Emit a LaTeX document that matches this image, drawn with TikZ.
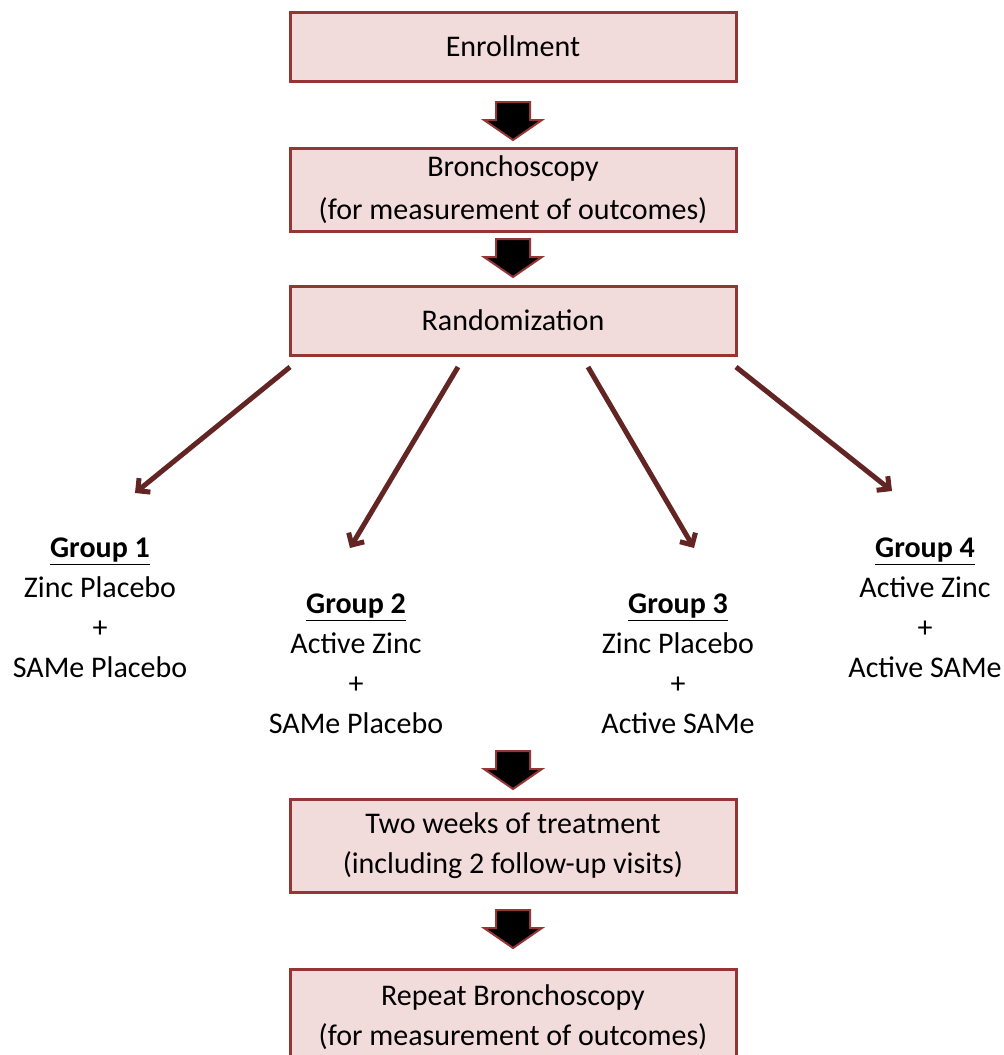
\documentclass[tikz,border=0pt]{standalone}
\usepackage{fontspec}
\setmainfont{Carlito}
\usepackage{xcolor}
\usetikzlibrary{positioning,arrows.meta}

\definecolor{boxline}{HTML}{943634}
\definecolor{boxfill}{HTML}{F2DCDB}
\definecolor{arrowred}{HTML}{632523}

\begin{document}
\begin{tikzpicture}[
    x=1pt, y=-1pt,
    font=\fontsize{30}{40}\selectfont,
    % --- flow step box ---
    stepbox/.style={draw=boxline, line width=3pt, fill=boxfill, align=center,
                    minimum width=446pt, inner sep=0pt},
    % --- black down block arrow, drawn from its top middle ---
    blockdown/.pic={
      \draw[draw=boxline, line width=2pt, fill=black, line join=miter]
        (-17,0) -- (17,0) -- (17,18) -- (29,18) -- (0,38) -- (-29,18)
        -- (-17,18) -- cycle;
    },
    % --- treatment group text ---
    grouptext/.style={align=center, inner sep=0pt},
    branch/.style={-{Straight Barb[length=9pt,width=18pt,line width=5pt]},
                   arrowred, line width=5pt},
  ]
  \useasboundingbox (0,0) rectangle (1004,1055);

  % ---- main flow -----------------------------------------------------------
  \node[stepbox, minimum height=69pt] (enroll) at (513,46.5) {Enrollment};
  \node[stepbox, minimum height=83pt] (bronch) at (513,189.5)
        {Bronchoscopy\\[3pt](for measurement of outcomes)};
  \node[stepbox, minimum height=69pt] (rand) at (513,320.5) {Randomization};
  \node[stepbox, minimum height=93pt] (treat) at (513,845.5)
        {Two weeks of treatment\\(including 2 follow-up visits)};
  \node[stepbox, minimum height=96pt] (repeat) at (513,1017)
        {Repeat Bronchoscopy\\(for measurement of outcomes)};

  % block arrows between the steps
  \pic (a1) at (513,102) {blockdown};
  \pic (a2) at (513,239) {blockdown};
  \pic (a3) at (513,751) {blockdown};
  \pic (a4) at (513,910) {blockdown};

  % ---- the four groups -----------------------------------------------------
  \node[grouptext] (g1) at (100,608)
        {\underline{\textbf{Group 1}}\\Zinc Placebo\\+\\SAMe Placebo};
  \node[grouptext] (g2) at (356,664)
        {\underline{\textbf{Group 2}}\\Active Zinc\\+\\SAMe Placebo};
  \node[grouptext] (g3) at (678,664)
        {\underline{\textbf{Group 3}}\\Zinc Placebo\\+\\Active SAMe};
  \node[grouptext] (g4) at (925,608)
        {\underline{\textbf{Group 4}}\\Active Zinc\\+\\Active SAMe};

  % branch arrows from the randomization box
  \coordinate (r1) at (290,367);
  \coordinate (r2) at (458,367);
  \coordinate (r3) at (588,367);
  \coordinate (r4) at (736,367);
  \coordinate (e1) at (135,493);
  \coordinate (e2) at (350,548);
  \coordinate (e3) at (694,548);
  \coordinate (e4) at (892,491);
  \foreach \i in {1,...,4}
    \draw[branch] (r\i) -- (e\i);

\end{tikzpicture}
\end{document}
